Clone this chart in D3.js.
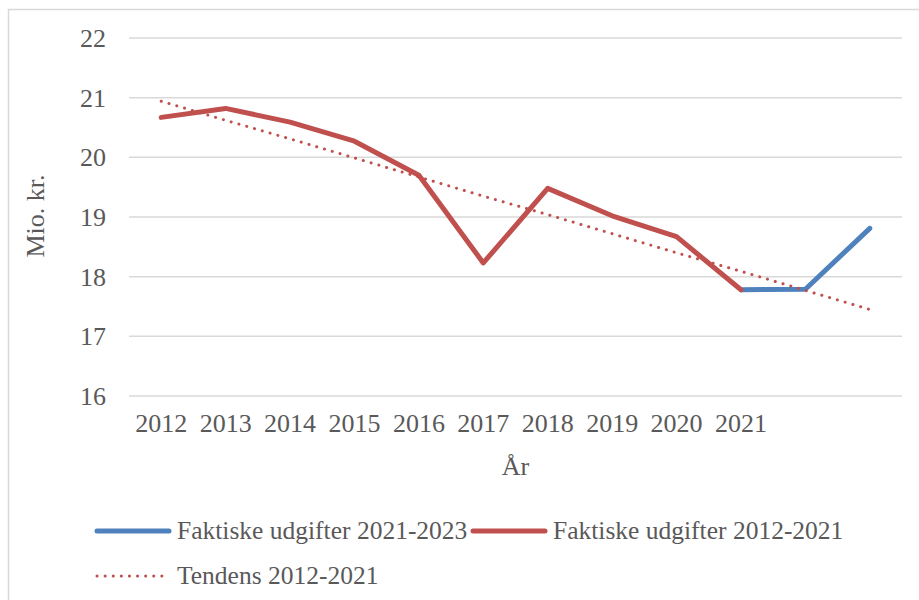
<!DOCTYPE html>
<meta charset="utf-8">
<style>
body { margin: 0; background: #fff; }
svg { display: block; }
text { font-family: "Liberation Serif", serif; fill: #595959; }
.grid line { stroke: #d9d9d9; stroke-width: 1.5px; }
</style>
<body>
<div id="main"></div>
<script src="https://d3js.org/d3.v7.min.js"></script>
<script>

// data
var years = ["2012", "2013", "2014", "2015", "2016", "2017", "2018", "2019", "2020", "2021", "2022", "2023"];
var tickLabels = ["2012", "2013", "2014", "2015", "2016", "2017", "2018", "2019", "2020", "2021", "", ""];
var udgifter2012 = [20.67, 20.82, 20.59, 20.27, 19.70, 18.23, 19.48, 19.02, 18.67, 17.78, null, null];
var udgifter2021 = [null, null, null, null, null, null, null, null, null, 17.78, 17.79, 18.81];
var tendens = [20.94, 20.62, 20.31, 19.99, 19.67, 19.35, 19.04, 18.72, 18.40, 18.09, 17.77, 17.45];
var yTicks = [16, 17, 18, 19, 20, 21, 22];

var W = 919, H = 600;
var plot = {left: 129, right: 902, top: 38, bottom: 396};

var svg = d3.select("#main").append("svg")
    .attr("width", W)
    .attr("height", H);

// outer chart border (only top and left visible)
svg.append("rect")
    .attr("x", 8.5).attr("y", 9.5)
    .attr("width", 940).attr("height", 640)
    .attr("fill", "none")
    .attr("stroke", "#d9d9d9")
    .attr("stroke-width", 1.5);

var x = d3.scaleBand().domain(years).range([plot.left, plot.right]).padding(0);
var y = d3.scaleLinear().domain([16, 22]).range([plot.bottom, plot.top]);
var cx = d => x(d) + x.bandwidth() / 2;

// gridlines
svg.append("g").attr("class", "grid")
  .selectAll("line")
  .data(yTicks)
  .enter().append("line")
    .attr("x1", plot.left).attr("x2", plot.right)
    .attr("y1", d => y(d)).attr("y2", d => y(d));

// y tick labels
svg.append("g")
  .selectAll("text")
  .data(yTicks)
  .enter().append("text")
    .attr("x", 106)
    .attr("y", d => y(d) + 9)
    .attr("text-anchor", "end")
    .style("font-size", "26px")
    .text(d => d);

// x tick labels
svg.append("g")
  .selectAll("text")
  .data(years)
  .enter().append("text")
    .attr("x", d => cx(d))
    .attr("y", 432)
    .attr("text-anchor", "middle")
    .style("font-size", "26px")
    .text((d, i) => tickLabels[i]);

// axis titles
svg.append("text")
    .attr("transform", "translate(44, 216) rotate(-90)")
    .attr("text-anchor", "middle")
    .style("font-size", "26px")
    .text("Mio. kr.");

svg.append("text")
    .attr("x", (plot.left + plot.right) / 2)
    .attr("y", 475)
    .attr("text-anchor", "middle")
    .style("font-size", "26px")
    .text("År");

var line = d3.line()
    .defined(d => d[1] != null)
    .x(d => cx(d[0]))
    .y(d => y(d[1]));

function pairs(vals) { return years.map((yr, i) => [yr, vals[i]]); }

svg.append("path")
    .attr("d", line(pairs(udgifter2021)))
    .attr("fill", "none")
    .attr("stroke", "#4f81bd")
    .attr("stroke-width", 5)
    .attr("stroke-linecap", "round")
    .attr("stroke-linejoin", "round");

svg.append("path")
    .attr("d", line(pairs(udgifter2012)))
    .attr("fill", "none")
    .attr("stroke", "#c0504d")
    .attr("stroke-width", 5)
    .attr("stroke-linecap", "round")
    .attr("stroke-linejoin", "round");

svg.append("path")
    .attr("d", line(pairs(tendens)))
    .attr("fill", "none")
    .attr("stroke", "#c0504d")
    .attr("stroke-width", 3)
    .attr("stroke-dasharray", "0.1 8")
    .attr("stroke-linecap", "round");

// legend
var legend = [
  {label: "Faktiske udgifter 2021-2023", color: "#4f81bd", dash: null, w: 5, x: 97, y: 531},
  {label: "Faktiske udgifter 2012-2021", color: "#c0504d", dash: null, w: 5, x: 473, y: 531},
  {label: "Tendens 2012-2021", color: "#c0504d", dash: "0.1 8", w: 3, x: 97, y: 576}
];

var li = svg.append("g").selectAll("g")
  .data(legend)
  .enter().append("g");

li.append("line")
    .attr("x1", d => d.x).attr("x2", d => d.x + 72)
    .attr("y1", d => d.y).attr("y2", d => d.y)
    .attr("stroke", d => d.color)
    .attr("stroke-width", d => d.w)
    .attr("stroke-linecap", "round")
    .attr("stroke-dasharray", d => d.dash);

li.append("text")
    .attr("x", d => d.x + 80)
    .attr("y", d => d.y + 8)
    .style("font-size", "25.5px")
    .text(d => d.label);

</script>
</body>
